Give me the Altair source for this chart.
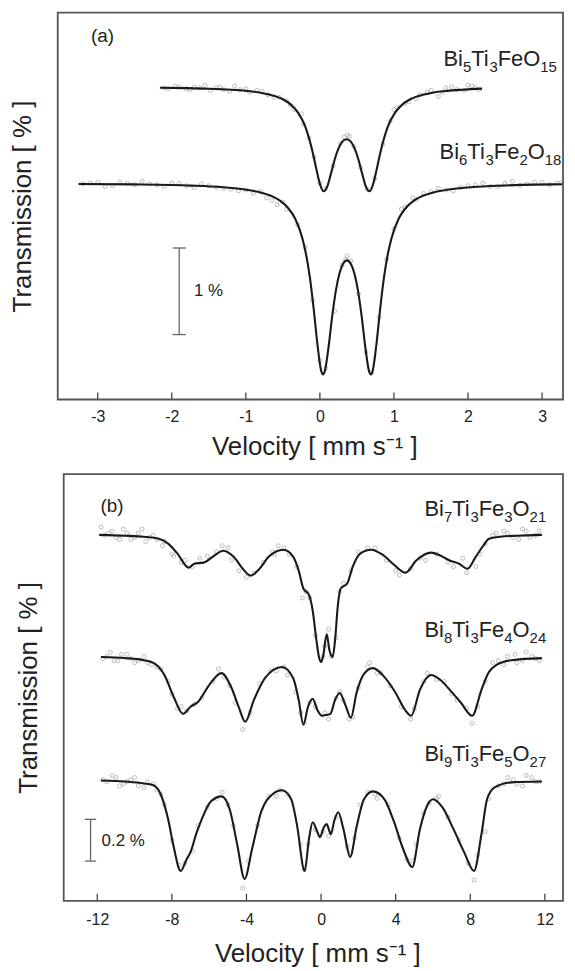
import re
import altair as alt
import pandas as pd

FONT = "Liberation Sans"
INK = "#1a1a1a"
GRAY_PT = "#acacac"
FRAME = "#555"

# ---------------- panel (a) ----------------
a_ticks = [-3, -2, -1, 0, 1, 2, 3]
a_xdom = [-3.54, 3.283]
a_ydom = [0, 4.47]
A_W, A_H = 508, 389

bi5_v = [-2.16, -1.8, -1.5, -1.2, -1.0, -0.8, -0.6, -0.5, -0.4, -0.3, -0.2, -0.1, -0.05, 0.0, 0.05,
         0.1, 0.15, 0.2, 0.25, 0.3, 0.36, 0.42, 0.47, 0.52, 0.57, 0.62, 0.67, 0.72, 0.77, 0.82,
         0.92, 1.02, 1.12, 1.22, 1.32, 1.52, 1.72, 1.92, 2.19]
bi5_t = [3.602, 3.597, 3.590, 3.578, 3.565, 3.544, 3.503, 3.468, 3.412, 3.320, 3.157, 2.865, 2.670, 2.491, 2.405,
         2.462, 2.612, 2.772, 2.897, 2.975, 3.007, 2.975, 2.897, 2.772, 2.612, 2.462, 2.405, 2.491, 2.670, 2.865,
         3.157, 3.320, 3.412, 3.468, 3.503, 3.544, 3.565, 3.578, 3.591]

bi6_v = [-3.26, -2.535, -1.735, -1.335, -1.035, -0.835, -0.635, -0.535, -0.435, -0.335, -0.235, -0.185,
         -0.135, -0.085, -0.035, 0.015, 0.04, 0.065, 0.115, 0.165, 0.215, 0.265, 0.315, 0.365,
         0.415, 0.465, 0.515, 0.565, 0.615, 0.665, 0.69, 0.715, 0.765, 0.815, 0.865, 0.915, 0.965,
         1.065, 1.165, 1.265, 1.365, 1.565, 1.765, 2.065, 2.465, 2.9, 3.27]
bi6_t = [2.490, 2.485, 2.471, 2.454, 2.429, 2.399, 2.343, 2.294, 2.218, 2.090, 1.858, 1.669,
         1.407, 1.056, 0.652, 0.341, 0.290, 0.322, 0.593, 0.954, 1.255, 1.458, 1.571, 1.607,
         1.571, 1.458, 1.255, 0.954, 0.593, 0.322, 0.290, 0.341, 0.652, 1.056, 1.407, 1.669, 1.858,
         2.090, 2.218, 2.294, 2.343, 2.399, 2.429, 2.454, 2.471, 2.482, 2.486]

bi5_pv = [-2.1, -1.95, -1.8, -1.7, -1.55, -1.4, -1.3, -1.15, -1.0, -0.85, -0.7, -0.55, -0.4, -0.25,
          0.37, 1.0, 1.15, 1.3, 1.45, 1.6, 1.7, 1.85, 2.0, 2.1,
          -2.05, -1.9, -1.75, -1.62, -1.48, -1.35, -1.22, -1.08, -0.95, -0.78, -0.62, -0.45, -0.35, -0.22,
          -0.15, -0.08, 0.0, 0.08, 0.18, 0.28, 0.33, 0.4, 0.46, 0.55, 0.64, 0.74, 0.85, 0.95, 1.05, 1.2,
          1.35, 1.5, 1.65, 1.78, 1.95, 2.05, 2.15]
bi5_pt = [3.60, 3.62, 3.59, 3.61, 3.63, 3.60, 3.58, 3.62, 3.59, 3.57, 3.52, 3.49, 3.40, 3.30,
          3.05, 3.35, 3.42, 3.47, 3.55, 3.50, 3.60, 3.58, 3.63, 3.60,
          3.59, 3.61, 3.58, 3.60, 3.57, 3.61, 3.56, 3.58, 3.55, 3.56, 3.49, 3.45, 3.35, 3.18,
          3.02, 2.80, 2.50, 2.44, 2.70, 2.96, 3.03, 3.04, 2.92, 2.68, 2.43, 2.55, 2.95, 3.22, 3.37, 3.44,
          3.52, 3.57, 3.55, 3.61, 3.57, 3.62, 3.58]
bi6_pv = [-3.2, -3.0, -2.8, -2.6, -2.4, -2.2, -2.0, -1.8, -1.6, -1.4, -1.2, -1.0, -0.8, -0.65, -0.5,
          0.37, 0.35, 1.1, 1.25, 1.4, 1.6, 1.8, 2.0, 2.2, 2.4, 2.6, 2.8, 3.0, 3.2,
          -3.1, -2.9, -2.7, -2.5, -2.3, -2.1, -1.9, -1.7, -1.5, -1.3, -1.1, -0.9, -0.72, -0.58, -0.45,
          -0.3, -0.2, -0.1, 0.0, 0.08, 0.2, 0.3, 0.42, 0.52, 0.62, 0.7, 0.8, 0.9, 1.0, 1.15, 1.3, 1.5,
          1.7, 1.9, 2.1, 2.3, 2.5, 2.7, 2.9, 3.1, 3.25]
bi6_pt = [2.49, 2.51, 2.47, 2.50, 2.52, 2.48, 2.50, 2.47, 2.49, 2.45, 2.43, 2.42, 2.40, 2.30, 2.28,
          1.66, 1.62, 2.20, 2.33, 2.38, 2.44, 2.41, 2.47, 2.50, 2.46, 2.52, 2.49, 2.51, 2.50,
          2.50, 2.46, 2.51, 2.48, 2.49, 2.46, 2.50, 2.45, 2.47, 2.44, 2.41, 2.38, 2.33, 2.25, 2.20,
          2.02, 1.76, 1.15, 0.45, 0.36, 1.02, 1.55, 1.60, 1.22, 0.55, 0.31, 0.95, 1.62, 1.97, 2.22, 2.31, 2.40,
          2.42, 2.45, 2.48, 2.46, 2.50, 2.47, 2.51, 2.48, 2.50]

a_labels = ["Bi5Ti3FeO15", "Bi6Ti3Fe2O18"]
a_label_x = [3.20, 3.26]
a_label_y = [3.85, 2.78]
a_bar = {"x": -1.90, "lo": 0.75, "hi": 1.75, "cap": 0.09, "text": "1 %", "tx": -1.70, "ty": 1.25}
a_panel = {"text": "(a)", "x": -3.09, "y": 4.13}

# ---------------- panel (b) ----------------
b_ticks = [-12, -8, -4, 0, 4, 8, 12]
b_xdom = [-14.12, 12.973]
b_ydom = [0, 2.043]
B_W, B_H = 508, 429

bi7_v = [-11.9, -10.5, -9.5, -8.7, -8.2, -7.7, -7.1, -6.8, -6.3, -5.8, -5.24, -4.7, -4.2, -3.78, -3.3,
         -2.8, -2.02, -1.5, -1.2, -0.95, -0.66, -0.45, -0.25, -0.1, 0.0, 0.12, 0.3, 0.45, 0.62, 0.75,
         0.9, 1.05, 1.4, 1.7, 2.1, 2.68, 3.3, 3.9, 4.53, 5.1, 5.9, 6.5, 6.9, 7.4, 7.85, 8.3, 8.7,
         9.0, 9.6, 10.5, 11.84]
bi7_t = [1.752, 1.748, 1.743, 1.733, 1.710, 1.662, 1.595, 1.614, 1.619, 1.648, 1.676, 1.648, 1.590, 1.557, 1.590,
         1.648, 1.681, 1.648, 1.581, 1.495, 1.467, 1.390, 1.248, 1.162, 1.143, 1.176, 1.276, 1.200, 1.167, 1.248,
         1.414, 1.495, 1.519, 1.600, 1.662, 1.681, 1.657, 1.610, 1.571, 1.629, 1.667, 1.648, 1.629, 1.614, 1.590, 1.648, 1.700,
         1.733, 1.743, 1.748, 1.752]

bi8_v = [-11.8, -10.5, -9.5, -8.96, -8.4, -7.9, -7.4, -7.0, -6.6, -6.0, -5.34, -4.8, -4.4, -4.07, -3.6,
         -3.0, -2.1, -1.5, -1.2, -0.95, -0.7, -0.45, -0.2, 0.04, 0.3, 0.5, 0.75, 1.0, 1.3, 1.6,
         1.9, 2.3, 2.78, 3.4, 4.0, 4.5, 4.83, 5.3, 5.9, 6.4, 6.9, 7.5, 8.1, 8.6, 9.0,
         9.4, 10.2, 11.84]
bi8_t = [1.167, 1.162, 1.152, 1.138, 1.081, 0.976, 0.895, 0.929, 0.952, 1.033, 1.090, 1.019, 0.924, 0.857, 0.962,
         1.067, 1.119, 1.067, 0.962, 0.843, 0.929, 0.967, 0.914, 0.886, 0.890, 0.895, 0.962, 0.995, 0.938, 0.876,
         0.995, 1.086, 1.114, 1.071, 0.995, 0.914, 0.886, 1.010, 1.081, 1.057, 1.010, 0.948, 0.886, 1.010, 1.095,
         1.129, 1.152, 1.162]

bi9_v = [-11.8, -10.5, -9.5, -8.96, -8.6, -8.2, -7.9, -7.53, -7.2, -7.0, -6.7, -6.4, -5.9, -5.34, -4.9,
         -4.5, -4.1, -3.7, -3.2, -2.6, -2.1, -1.6, -1.3, -0.88, -0.65, -0.45, -0.2, -0.06, 0.15, 0.3,
         0.45, 0.53, 0.7, 0.92, 1.2, 1.56, 1.9, 2.3, 2.78, 3.4, 3.9, 4.4, 4.89, 5.3, 5.7,
         6.0, 6.5, 7.1, 7.67, 8.2, 8.6, 8.9, 9.3, 10.2, 11.84]
bi9_t = [0.576, 0.571, 0.562, 0.552, 0.510, 0.390, 0.257, 0.143, 0.200, 0.233, 0.319, 0.390, 0.476, 0.500, 0.438,
         0.271, 0.105, 0.248, 0.429, 0.510, 0.529, 0.486, 0.367, 0.143, 0.295, 0.376, 0.329, 0.305, 0.352, 0.367,
         0.333, 0.319, 0.381, 0.424, 0.343, 0.210, 0.352, 0.486, 0.524, 0.486, 0.381, 0.248, 0.162, 0.343, 0.457,
         0.486, 0.448, 0.343, 0.233, 0.143, 0.319, 0.486, 0.543, 0.567, 0.571]

bi7_pv = [-11.8, -11.4, -11.0, -10.6, -10.2, -9.8, -9.4, -9.0, -8.5, -8.0, -7.3, -6.5, -5.3, -5.0, -4.0,
          -2.5, -2.0, -1.0, 0.4, 1.2, 2.5, 4.2, 5.6, 6.8, 7.6, 8.3, 8.8, 9.4, 9.8, 10.3, 10.8, 11.2, 11.7,
          -11.6, -11.2, -10.8, -10.4, -10.0, -9.6, -9.2, -8.8, -8.4, -7.9, -7.5, -6.9, -6.1, -5.6, -4.8,
          -4.4, -3.6, -3.1, -2.6, -2.3, -1.7, -1.3, -0.8, -0.6, -0.3, 0.1, 0.2, 0.55, 0.8, 1.0, 1.6, 2.0,
          2.9, 3.5, 4.0, 4.8, 5.3, 6.2, 7.1, 7.8, 8.5, 9.2, 10.0, 10.6, 11.0, 11.5]
bi7_pt = [1.79, 1.76, 1.74, 1.78, 1.73, 1.76, 1.72, 1.75, 1.70, 1.66, 1.63, 1.64, 1.70, 1.69, 1.55,
          1.66, 1.69, 1.45, 1.30, 1.52, 1.69, 1.56, 1.63, 1.62, 1.64, 1.60, 1.71, 1.76, 1.77, 1.74, 1.78, 1.74, 1.77,
          1.75, 1.77, 1.73, 1.76, 1.74, 1.78, 1.74, 1.73, 1.72, 1.65, 1.62, 1.60, 1.65, 1.67, 1.63,
          1.58, 1.57, 1.62, 1.67, 1.70, 1.66, 1.60, 1.48, 1.45, 1.27, 1.17, 1.22, 1.17, 1.26, 1.48, 1.58, 1.67,
          1.69, 1.63, 1.58, 1.59, 1.64, 1.66, 1.60, 1.57, 1.66, 1.75, 1.76, 1.73, 1.77, 1.75]
bi8_pv = [-11.7, -11.3, -10.9, -10.4, -10.0, -9.5, -9.1, -8.6, -8.2, -7.5, -6.8, -5.5, -5.2, -4.2, -2.4,
          -2.0, -0.9, 0.2, 1.0, 1.7, 2.6, 3.0, 4.8, 5.7, 6.2, 7.0, 8.1, 8.8, 9.5, 10.0, 10.5, 11.0, 11.5,
          -11.5, -11.1, -10.7, -10.2, -9.8, -9.3, -8.8, -8.0, -7.7, -7.2, -6.4, -5.8, -4.9, -4.6, -3.8,
          -3.3, -2.7, -1.8, -1.35, -1.1, -0.6, -0.3, 0.4, 0.8, 1.2, 1.5, 2.0, 2.5, 3.2, 3.7, 4.3, 5.0,
          5.5, 6.6, 7.3, 7.8, 8.4, 9.2, 9.8, 10.4, 10.8, 11.3, 11.7]
bi8_pt = [1.16, 1.19, 1.15, 1.18, 1.14, 1.17, 1.13, 1.11, 1.05, 0.93, 0.94, 1.11, 1.07, 0.82, 1.10,
          1.12, 0.85, 0.90, 1.00, 0.88, 1.14, 1.09, 0.87, 1.09, 1.06, 0.99, 0.85, 1.05, 1.15, 1.17, 1.14, 1.19, 1.16,
          1.17, 1.15, 1.18, 1.16, 1.15, 1.14, 1.12, 0.99, 0.92, 0.91, 0.97, 1.05, 1.03, 0.95, 0.90,
          1.04, 1.10, 1.08, 1.00, 0.90, 0.95, 0.93, 0.87, 0.97, 0.96, 0.87, 1.02, 1.12, 1.09, 1.03, 0.93, 0.92,
          1.05, 1.05, 0.96, 0.92, 0.93, 1.14, 1.13, 1.18, 1.15, 1.17, 1.15]
bi9_pv = [-11.7, -11.2, -10.8, -10.4, -10.0, -9.5, -9.0, -8.6, -7.6, -6.9, -5.6, -5.0, -4.2, -2.8, -2.2,
          -0.9, 0.1, 1.6, 2.5, 3.0, 4.9, 5.8, 6.3, 8.2, 8.8, 9.5, 10.0, 10.5, 11.0, 11.5,
          -11.5, -11.0, -10.6, -10.2, -9.8, -9.3, -8.8, -8.4, -8.0, -7.3, -6.6, -6.1, -5.3, -4.7, -3.9,
          -3.4, -2.4, -1.8, -1.1, -0.7, -0.3, 0.4, 0.8, 1.4, 1.8, 2.1, 2.9, 3.6, 4.2, 4.6, 5.1, 5.5,
          6.2, 6.8, 7.4, 7.9, 8.4, 9.0, 9.8, 10.3, 10.8, 11.3, 11.7]
bi9_pt = [0.58, 0.60, 0.55, 0.57, 0.59, 0.54, 0.56, 0.51, 0.17, 0.24, 0.49, 0.46, 0.06, 0.50, 0.53,
          0.15, 0.33, 0.23, 0.52, 0.49, 0.19, 0.47, 0.50, 0.10, 0.33, 0.55, 0.59, 0.56, 0.60, 0.57,
          0.57, 0.59, 0.56, 0.58, 0.55, 0.57, 0.53, 0.46, 0.29, 0.18, 0.36, 0.45, 0.52, 0.36, 0.19,
          0.36, 0.50, 0.51, 0.27, 0.27, 0.34, 0.31, 0.40, 0.26, 0.30, 0.46, 0.51, 0.46, 0.30, 0.20, 0.27, 0.42,
          0.49, 0.40, 0.29, 0.18, 0.22, 0.49, 0.56, 0.58, 0.55, 0.59, 0.57]

b_labels = ["Bi7Ti3Fe3O21", "Bi8Ti3Fe4O24", "Bi9Ti3Fe5O27"]
b_label_x = [12.07, 12.07, 12.07]
b_label_y = [1.843, 1.262, 0.667]
b_bar = {"x": -12.36, "lo": 0.19, "hi": 0.39, "cap": 0.3, "text": "0.2 %", "tx": -11.77, "ty": 0.286}
b_panel = {"text": "(b)", "x": -11.83, "y": 1.862}

# ---------------- helpers ----------------
ARIAL_W = {"B": 667, "i": 222, "T": 611, "F": 611, "e": 556, "O": 778}
F_MAIN, F_SUB = 22, 15
LEFT_PX = 49


def text_w(s, fs):
    return sum(ARIAL_W.get(c, 556) for c in s) * fs / 1000.0


def formula_rows(formulas, xs, ys, pxx, pxy):
    rows = []
    for f, xr, yb in zip(formulas, xs, ys):
        parts = re.findall(r"[A-Za-z]+|\d+", f)
        widths = [text_w(p, F_SUB if p.isdigit() else F_MAIN) for p in parts]
        x0 = xr - sum(widths) / pxx
        cum = 0.0
        for p, w in zip(parts, widths):
            sub = p.isdigit()
            rows.append({"v": x0 + cum / pxx, "t": yb - (6.0 / pxy if sub else 0.0), "text": p, "sub": sub})
            cum += w
    return pd.DataFrame(rows)


def make_panel(xdom, ydom, W, H, ticks, lines, pts, labels, lx, ly, bar, plabel,
               lab_pad, tit_pad, ytit_pad, frame_left):
    pxx = W / (xdom[1] - xdom[0])
    pxy = H / (ydom[1] - ydom[0])
    xenc = alt.X("v:Q", scale=alt.Scale(domain=xdom, nice=False, zero=False),
                 axis=alt.Axis(values=ticks, ticks=False, domain=False, grid=False,
                               labelFontSize=16, labelPadding=lab_pad, labelExpr="'' + datum.value",
                               title="Velocity [ mm s⁻¹ ]", titleFontSize=26, titlePadding=tit_pad,
                               titleX=(W + frame_left) / 2 + 4))
    yenc = alt.Y("t:Q", scale=alt.Scale(domain=ydom, nice=False, zero=False),
                 axis=alt.Axis(labels=False, ticks=False, domain=False, grid=False, minExtent=0,
                               title="Transmission [ % ]", titleFontSize=26, titlePadding=ytit_pad))

    line_df = pd.concat([pd.DataFrame({"v": v, "t": t, "s": n}) for n, (v, t) in lines.items()])
    pt_df = pd.concat([pd.DataFrame({"v": v, "t": t}) for v, t in pts])

    frame = alt.Chart(pd.DataFrame({"v": [0]})).mark_rect(fillOpacity=0, stroke=FRAME, strokeWidth=1.8).encode(
        x=alt.value(frame_left), x2=alt.value(W), y=alt.value(0), y2=alt.value(H))
    scatter = alt.Chart(pt_df).mark_point(shape="circle", filled=False, size=16, strokeWidth=0.9,
                                          color=GRAY_PT, opacity=0.9).encode(x=xenc, y=yenc)
    curve = alt.Chart(line_df).mark_line(color=INK, strokeWidth=2.1, interpolate="monotone").encode(
        x="v:Q", y="t:Q", detail="s:N")
    tick_marks = alt.Chart(pd.DataFrame({"v": ticks})).mark_rule(color="#333", strokeWidth=1.2).encode(
        x="v:Q", y=alt.value(H), y2=alt.value(H - 7))
    bar_v = alt.Chart(pd.DataFrame({"v": [bar["x"]], "t": [bar["lo"]], "t2": [bar["hi"]]})).mark_rule(
        color="#666", strokeWidth=1.3).encode(x="v:Q", y="t:Q", y2="t2:Q")
    bar_c = alt.Chart(pd.DataFrame({"v": [bar["x"] - bar["cap"]] * 2, "v2": [bar["x"] + bar["cap"]] * 2,
                                    "t": [bar["lo"], bar["hi"]]})).mark_rule(
        color="#666", strokeWidth=1.3).encode(x="v:Q", x2="v2:Q", y="t:Q")
    bar_t = alt.Chart(pd.DataFrame({"v": [bar["tx"]], "t": [bar["ty"]], "text": [bar["text"]]})).mark_text(
        align="left", baseline="middle", fontSize=17, color="#222").encode(x="v:Q", y="t:Q", text="text:N")
    pl = alt.Chart(pd.DataFrame({"v": [plabel["x"]], "t": [plabel["y"]], "text": [plabel["text"]]})).mark_text(
        align="left", baseline="alphabetic", fontSize=19, color="#222").encode(x="v:Q", y="t:Q", text="text:N")
    fdf = formula_rows(labels, lx, ly, pxx, pxy)
    f_main = alt.Chart(fdf[~fdf["sub"]]).mark_text(align="left", baseline="alphabetic", fontSize=F_MAIN,
                                                 color="#222").encode(x="v:Q", y="t:Q", text="text:N")
    f_sub = alt.Chart(fdf[fdf["sub"]]).mark_text(align="left", baseline="alphabetic", fontSize=F_SUB,
                                               color="#222").encode(x="v:Q", y="t:Q", text="text:N")
    bound = alt.Chart(pd.DataFrame({"v": [0]})).mark_rule(opacity=0).encode(
        x=alt.value(-LEFT_PX), x2=alt.value(-LEFT_PX + 1), y=alt.value(0))
    return alt.layer(scatter, curve, tick_marks, bar_v, bar_c, bar_t, pl, f_main, f_sub, frame, bound).properties(
        width=W, height=H)


pa = make_panel(a_xdom, a_ydom, A_W, A_H, a_ticks,
                {"Bi5": (bi5_v, bi5_t), "Bi6": (bi6_v, bi6_t)},
                [(bi5_pv, bi5_pt), (bi6_pv, bi6_pt)],
                a_labels, a_label_x, a_label_y, a_bar, a_panel, 9, 9, 22, 0)
pb = make_panel(b_xdom, b_ydom, B_W, B_H, b_ticks,
                {"Bi7": (bi7_v, bi7_t), "Bi8": (bi8_v, bi8_t), "Bi9": (bi9_v, bi9_t)},
                [(bi7_pv, bi7_pt), (bi8_pv, bi8_pt), (bi9_pv, bi9_pt)],
                b_labels, b_label_x, b_label_y, b_bar, b_panel, 11, 13, 16, 6)

chart = alt.vconcat(pa, pb, spacing=12).properties(padding=0).configure_view(
    stroke="transparent").configure_axis(
    labelFont=FONT, titleFont=FONT, labelColor="#222", titleColor="#222",
    titleFontWeight="normal").configure_text(font=FONT)

chart.save("out.html", embed_options={"renderer": "svg", "actions": False})
